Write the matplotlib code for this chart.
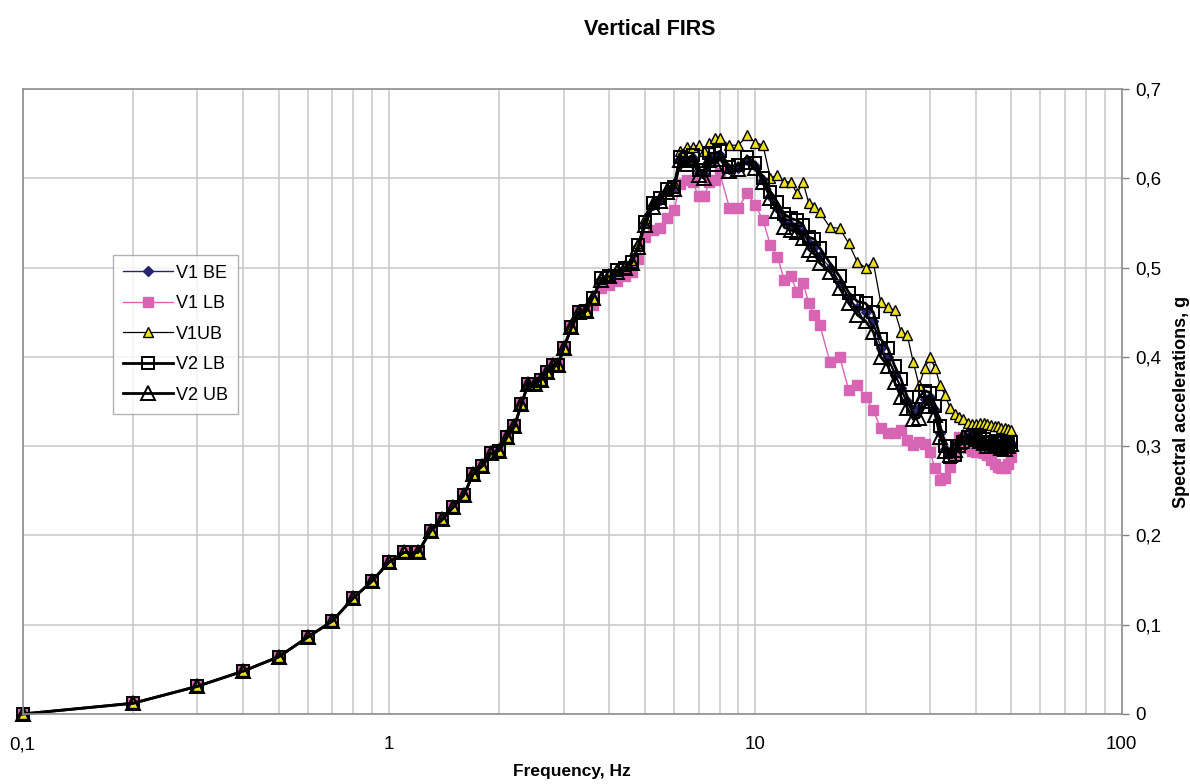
import numpy as np
import matplotlib
matplotlib.use('Agg')
import matplotlib.pyplot as plt
from matplotlib.ticker import FixedLocator, FuncFormatter, NullFormatter

plt.rcParams['font.family'] = ['Liberation Sans', 'DejaVu Sans']

# frequencies, Hz
FREQ_LOW = [0.1, 0.2, 0.3, 0.4, 0.5, 0.6, 0.7, 0.8, 0.9, 1.0,
            1.1, 1.2, 1.3, 1.4, 1.5, 1.6, 1.7, 1.8, 1.9, 2.0,
            2.1, 2.2, 2.3, 2.4, 2.5, 2.6, 2.7, 2.8, 2.9, 3.0,
            3.15, 3.3, 3.45]
FREQ_HIGH = [3.6, 3.8, 4.0, 4.2, 4.4, 4.6, 4.8,
             5.0, 5.25, 5.5, 5.75, 6.0, 6.25, 6.5, 6.75, 7.0, 7.25, 7.5, 7.75, 8.0,
             8.5, 9.0, 9.5, 10.0,
             10.5, 11.0, 11.5, 12.0, 12.5, 13.0, 13.5, 14.0, 14.5, 15.0,
             16, 17, 18, 19, 20, 21, 22, 23, 24, 25, 26, 27, 28, 29, 30,
             31, 32, 33, 34, 35, 36, 37, 38, 39, 40, 41, 42, 43, 44, 45,
             46, 47, 48, 49, 50]

# all spectra coincide below 3.5 Hz
COMMON_LOW = [0.0, 0.012, 0.031, 0.048, 0.064, 0.086, 0.104, 0.13, 0.149, 0.17,
              0.181, 0.181, 0.205, 0.218, 0.232, 0.245, 0.269, 0.278, 0.292, 0.295,
              0.31, 0.322, 0.347, 0.37, 0.37, 0.374, 0.383, 0.391, 0.391, 0.41,
              0.433, 0.45, 0.451]

V1_BE_HIGH = [0.466, 0.487, 0.49, 0.496, 0.5, 0.505, 0.524,
              0.55, 0.57, 0.576, 0.586, 0.589, 0.622, 0.619, 0.623, 0.606, 0.605, 0.624, 0.622, 0.626,
              0.61, 0.612, 0.62, 0.614,
              0.598, 0.58, 0.567, 0.552, 0.548, 0.546, 0.54, 0.527, 0.523, 0.513,
              0.5, 0.483, 0.466, 0.455, 0.45, 0.44, 0.41, 0.4, 0.38, 0.365, 0.35, 0.336, 0.343, 0.353, 0.355,
              0.34, 0.315, 0.297, 0.289, 0.293, 0.302, 0.307, 0.31, 0.31, 0.31, 0.308, 0.305, 0.302, 0.301, 0.303,
              0.303, 0.3, 0.298, 0.301, 0.303]
V1_LB_HIGH = [0.458, 0.477, 0.48, 0.485, 0.49, 0.495, 0.51,
              0.534, 0.542, 0.544, 0.556, 0.564, 0.594, 0.598, 0.596, 0.58, 0.58, 0.596, 0.598, 0.606,
              0.567, 0.567, 0.583, 0.57,
              0.553, 0.525, 0.512, 0.486, 0.49, 0.473, 0.483, 0.46, 0.447, 0.436,
              0.394, 0.4, 0.363, 0.368, 0.355, 0.34, 0.32, 0.315, 0.315, 0.318, 0.307, 0.301, 0.305, 0.302, 0.293,
              0.275, 0.262, 0.264, 0.277, 0.29, 0.31, 0.305, 0.298, 0.295, 0.293, 0.293, 0.292, 0.29, 0.285, 0.28,
              0.277, 0.275, 0.275, 0.28, 0.288]
V1_UB_HIGH = [0.466, 0.488, 0.492, 0.498, 0.502, 0.508, 0.527,
              0.555, 0.575, 0.58, 0.59, 0.595, 0.63, 0.635, 0.635, 0.637, 0.63, 0.64, 0.645, 0.645,
              0.637, 0.637, 0.648, 0.64,
              0.637, 0.6, 0.604, 0.596, 0.596, 0.583, 0.596, 0.572, 0.568, 0.562,
              0.545, 0.544, 0.527, 0.506, 0.5, 0.506, 0.461, 0.456, 0.452, 0.428, 0.424, 0.394, 0.368, 0.387, 0.4,
              0.387, 0.368, 0.357, 0.343, 0.336, 0.333, 0.33, 0.326, 0.325, 0.325, 0.326, 0.326, 0.325, 0.324, 0.323,
              0.322, 0.32, 0.32, 0.319, 0.318]
V2_LB_HIGH = [0.466, 0.488, 0.49, 0.497, 0.5, 0.506, 0.525,
              0.551, 0.572, 0.578, 0.588, 0.59, 0.624, 0.622, 0.626, 0.609, 0.609, 0.628, 0.628, 0.63,
              0.613, 0.615, 0.624, 0.617,
              0.6, 0.585, 0.573, 0.56, 0.555, 0.553, 0.548, 0.534, 0.532, 0.522,
              0.505, 0.49, 0.472, 0.462, 0.46, 0.45, 0.42, 0.41, 0.39, 0.375, 0.355, 0.342, 0.355, 0.362, 0.36,
              0.345, 0.322, 0.3, 0.288, 0.29, 0.3, 0.305, 0.31, 0.31, 0.312, 0.31, 0.308, 0.305, 0.303, 0.305,
              0.306, 0.303, 0.3, 0.302, 0.305]
V2_UB_HIGH = [0.466, 0.486, 0.49, 0.495, 0.5, 0.505, 0.523,
              0.548, 0.568, 0.575, 0.585, 0.588, 0.62, 0.616, 0.62, 0.604, 0.6, 0.62, 0.616, 0.622,
              0.608, 0.61, 0.618, 0.612,
              0.596, 0.578, 0.563, 0.545, 0.542, 0.54, 0.533, 0.52, 0.515, 0.505,
              0.495, 0.477, 0.46, 0.447, 0.44, 0.428, 0.4, 0.39, 0.372, 0.355, 0.343, 0.33, 0.332, 0.345, 0.35,
              0.335, 0.31, 0.295, 0.29, 0.296, 0.305, 0.31, 0.312, 0.31, 0.308, 0.306, 0.303, 0.3, 0.3, 0.302,
              0.3, 0.298, 0.297, 0.3, 0.302]

freq = np.array(FREQ_LOW + FREQ_HIGH)
series = [
    ('V1 BE', COMMON_LOW + V1_BE_HIGH,
     dict(color='#23236e', lw=1.0, marker='D', ms=5.5, mfc='#23236e', mec='#23236e')),
    ('V1 LB', COMMON_LOW + V1_LB_HIGH,
     dict(color='#d864b4', lw=1.0, marker='s', ms=7.5, mfc='#d864b4', mec='#d864b4')),
    ('V1UB', COMMON_LOW + V1_UB_HIGH,
     dict(color='black', lw=0.9, marker='^', ms=6.5, mfc='#ece020', mec='black', mew=1.0)),
    ('V2 LB', COMMON_LOW + V2_LB_HIGH,
     dict(color='black', lw=2.0, marker='s', ms=9, mfc='none', mec='black', mew=1.4)),
    ('V2 UB', COMMON_LOW + V2_UB_HIGH,
     dict(color='black', lw=2.0, marker='^', ms=9.5, mfc='none', mec='black', mew=1.4)),
]

fig = plt.figure(figsize=(11.9, 7.84), dpi=100)
ax = fig.add_axes([0.019, 0.0893, 0.9235, 0.7972])

for name, vals, style in series:
    ax.plot(freq, vals, label=name, clip_on=False, **style)

ax.set_xscale('log')
ax.set_xlim(0.1, 100)
ax.set_ylim(0, 0.7)

comma = FuncFormatter(lambda v, p: ('%g' % v).replace('.', ','))
ax.xaxis.set_major_locator(FixedLocator([0.1, 1, 10, 100]))
ax.xaxis.set_major_formatter(comma)
minor = [m * d for d in (0.1, 1, 10) for m in range(2, 10)]
ax.xaxis.set_minor_locator(FixedLocator(minor))
ax.xaxis.set_minor_formatter(NullFormatter())
ax.set_yticks(np.arange(0, 0.71, 0.1))
ax.yaxis.set_major_formatter(comma)

ax.yaxis.tick_right()
ax.yaxis.set_label_position('right')
ax.tick_params(axis='x', which='both', length=0, pad=16, labelsize=13.5)
ax.tick_params(axis='y', length=5, width=1, color='#808080', pad=5, labelsize=13.5)

ax.grid(True, which='major', color='#c8c8c8', lw=1.1)
ax.grid(True, which='minor', axis='x', color='#c8c8c8', lw=1.1)
ax.set_axisbelow(True)
for s in ax.spines.values():
    s.set_color('#909090')
    s.set_linewidth(1.2)

ax.set_xlabel('Frequency, Hz', fontsize=12.5, fontweight='bold', labelpad=8)
ax.set_ylabel('Spectral accelerations, g', fontsize=13, fontweight='bold', labelpad=8)
fig.text(0.546, 0.962, 'Vertical FIRS', fontsize=15.5, fontweight='bold', ha='center', va='center')

leg = ax.legend(loc='upper left', bbox_to_anchor=(0.082, 0.735), fontsize=13,
                frameon=True, fancybox=False, handlelength=2.8, handletextpad=0.15,
                labelspacing=0.75, borderpad=0.55, borderaxespad=0)
leg.get_frame().set_edgecolor('#a0a0a0')
leg.get_frame().set_linewidth(1.0)

fig.savefig('out.png', dpi=100)
